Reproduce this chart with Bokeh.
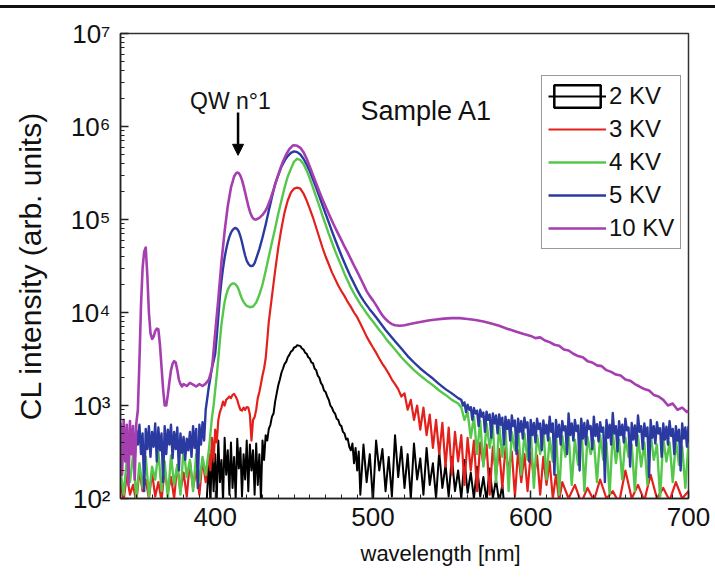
from bokeh.plotting import figure
from bokeh.models import (Range1d, FixedTicker, Label, Arrow, NormalHead, Legend,
                          LegendItem, ColumnDataSource, Div, Title)
from bokeh.layouts import column
from bokeh.embed import file_html
from bokeh.resources import INLINE

FONT = "Liberation Sans"

# ---------------- data: (wavelength nm, CL intensity) ----------------
spec_2kv = [(394,60),(396,250),(397,90),(398,380),(399,120),(400,300),(401,100),(402,420),(403,150),(404,260),
    (405,95),(406,450),(407,180),(408,330),(409,110),(410,400),(411,130),(412,280),(413,100),(414,440),(415,210),
    (416,350),(417,105),(418,300),(419,160),(420,420),(421,120),(422,380),(423,200),(424,330),(425,110),(426,390),
    (427,140),(428,300),(429,100),(430,420),(431,260),(432,480),(433,420),(434,560),(435,620),(436,760),(437,820),
    (438,1100),(439,1350),(440,1650),(441,1900),(442,2250),(443,2500),(444,2800),(445,2950),(446,3300),(447,3500),
    (448,3800),(449,3900),(450,4200),(451,4250),(452,4450),(453,4400),(454,4350),(455,4100),(456,4000),(457,3700),
    (458,3600),(459,3300),(460,3200),(461,2900),(462,2850),(463,2500),(464,2400),(465,2100),(466,2000),(467,1750),
    (468,1650),(469,1450),(470,1400),(471,1250),(472,1150),(473,1000),(474,950),(475,860),(476,820),(477,720),
    (478,700),(479,620),(480,600),(481,520),(482,500),(483,430),(484,440),(485,360),(486,330),(487,390),(488,240),
    (489,350),(490,200),(491,320),(492,110),(494,380),(496,150),(498,300),(500,95),(502,420),(504,200),(506,340),
    (508,120),(510,280),(512,105),(514,480),(516,170),(518,360),(520,130),(522,300),(524,100),(526,390),(528,160),
    (530,270),(532,110),(534,350),(536,140),(538,240),(540,100),(542,320),(544,130),(546,230),(548,105),(550,280),
    (552,120),(554,200),(556,100),(558,260),(560,115),(562,190),(564,100),(566,220),(568,105),(570,170),(572,95),
    (574,210),(576,100),(578,160),(580,90),(582,140),(584,60)]

spec_3kv = [(340,150),(342,95),(344,180),(346,110),(348,140),(350,90),(352,200),(354,120),(356,160),(358,100),
    (360,190),(362,105),(364,150),(366,95),(368,210),(370,115),(372,170),(374,100),(376,230),(378,120),(380,190),
    (382,105),(384,250),(386,130),(388,200),(390,110),(392,260),(394,150),(396,300),(397,200),(398,450),(399,250),
    (400,550),(401,400),(402,700),(403,850),(404,950),(405,1100),(406,1000),(407,1150),(408,1200),(409,1250),
    (410,1200),(411,1300),(412,1330),(413,1250),(414,1150),(415,1000),(416,900),(417,880),(418,950),(419,900),
    (420,960),(421,950),(422,800),(423,420),(424,700),(425,750),(426,900),(427,1200),(428,1400),(429,1700),
    (430,2100),(431,2500),(432,3200),(433,5000),(434,8000),(436,15000),(438,28000),(440,50000),(442,80000),
    (444,120000),(446,160000),(448,195000),(450,215000),(452,220000),(454,215000),(456,190000),(458,160000),
    (460,130000),(462,105000),(464,82000),(466,64000),(468,50000),(470,40000),(472,33000),(474,27000),(476,23000),
    (478,19500),(480,17000),(482,15000),(484,13000),(486,11500),(488,10000),(490,8900),(492,7600),(494,6500),
    (496,5500),(498,4800),(500,4200),(502,3700),(504,3200),(506,2800),(508,2500),(510,2200),(512,1900),(514,1700),
    (516,1500),(518,1250),(520,1350),(522,900),(524,1150),(526,700),(528,1000),(530,550),(532,950),(534,480),
    (536,800),(538,350),(540,700),(542,300),(544,650),(546,220),(548,580),(550,180),(552,520),(554,250),(556,480),
    (558,140),(560,450),(562,200),(564,420),(566,120),(568,400),(570,230),(572,380),(574,110),(576,360),(578,180),
    (580,340),(582,130),(584,350),(586,200),(588,320),(590,105),(592,330),(594,150),(596,300),(598,120),(600,310),
    (602,170),(604,290),(606,110),(608,280),(610,140),(612,250),(614,100),(616,180),(618,95),(620,150),(624,100),
    (628,140),(632,90),(636,130),(640,95),(644,160),(648,100),(652,120),(656,90),(660,200),(664,100),(668,140),
    (672,95),(676,180),(680,100),(684,130),(688,95),(692,150),(696,100),(700,120)]

spec_4kv = [(340,200),(342,110),(344,260),(346,150),(348,300),(350,100),(352,240),(354,130),(356,280),(358,105),
    (360,220),(362,160),(364,320),(366,120),(368,250),(370,100),(372,290),(374,140),(376,230),(378,110),(380,350),
    (382,170),(384,260),(386,120),(388,300),(390,150),(392,280),(394,180),(396,330),(397,500),(398,750),(399,1000),
    (400,1450),(401,2100),(402,3200),(403,5000),(404,7500),(405,10000),(406,13000),(407,15500),(408,17500),
    (409,19000),(410,20000),(411,20500),(412,20500),(413,20000),(414,19000),(415,17500),(416,15500),(417,14000),
    (418,13000),(419,12300),(420,11800),(422,11400),(424,11600),(426,12800),(428,15500),(430,20000),(432,28000),
    (434,40000),(436,57000),(438,80000),(440,115000),(442,160000),(444,220000),(446,290000),(448,350000),
    (450,420000),(452,450000),(454,435000),(456,395000),(458,335000),(460,275000),(462,220000),(464,175000),
    (466,140000),(468,110000),(470,88000),(472,70000),(474,57000),(476,46000),(478,38000),(480,31500),(482,26000),
    (484,22000),(486,18500),(488,16000),(490,14000),(492,12300),(494,11000),(496,9800),(498,8800),(500,8000),
    (502,7200),(504,6500),(506,5900),(508,5300),(510,4800),(514,4000),(518,3300),(522,2800),(526,2400),(530,2100),
    (534,1850),(538,1650),(542,1450),(546,1300),(550,1150),(554,1050),(556,950),(558,700),(560,850),(562,450),
    (564,760),(566,300),(568,680),(570,220),(572,640),(574,350),(576,600),(578,150),(580,620),(582,280),(584,560),
    (586,120),(588,520),(590,330),(592,580),(594,180),(596,500),(598,260),(600,540),(602,130),(604,480),(606,300),
    (608,560),(610,160),(612,450),(614,250),(616,520),(618,110),(620,470),(622,280),(624,500),(626,140),(628,430),
    (630,230),(632,700),(634,120),(636,460),(638,300),(640,420),(642,150),(644,480),(646,260),(648,400),(650,110),
    (652,520),(654,240),(656,430),(658,160),(660,450),(662,280),(664,380),(666,120),(668,470),(670,220),(672,400),
    (674,140),(676,500),(678,260),(680,380),(682,100),(684,440),(686,250),(688,400),(690,150),(692,420),(694,230),
    (696,360),(698,130),(700,400)]

spec_5kv = [(340,550),(341,300),(342,600),(343,350),(344,520),(345,200),(346,560),(347,320),(348,480),(349,260),
    (350,540),(351,380),(352,620),(353,300),(354,500),(355,120),(356,560),(357,340),(358,600),(359,280),(360,520),
    (361,360),(362,640),(363,250),(364,580),(365,330),(366,500),(367,150),(368,600),(369,300),(370,550),(371,380),
    (372,620),(373,270),(374,520),(375,340),(376,580),(377,200),(378,500),(379,310),(380,460),(381,260),(382,440),
    (383,330),(384,520),(385,280),(386,600),(387,350),(388,560),(389,130),(390,620),(391,380),(392,660),(393,420),
    (394,900),(395,1200),(396,1600),(397,2000),(398,2600),(399,3000),(400,3600),(401,5500),(402,9000),(403,15000),
    (404,22000),(405,30000),(406,39000),(407,48000),(408,57000),(409,65000),(410,72000),(411,77000),(412,80000),
    (413,81000),(414,79000),(415,74000),(416,66000),(417,57000),(418,48000),(419,41000),(420,36000),(421,33500),
    (422,32000),(423,31500),(424,32000),(425,34000),(426,38000),(428,48000),(430,64000),(432,88000),(434,125000),
    (436,175000),(438,240000),(440,300000),(442,370000),(444,430000),(446,480000),(448,520000),(450,540000),
    (452,530000),(454,500000),(456,450000),(458,390000),(460,330000),(462,270000),(464,220000),(466,178000),
    (468,143000),(470,115000),(472,93000),(474,75000),(476,61000),(478,50000),(480,41000),(482,34000),(484,28500),
    (486,24000),(488,20500),(490,17500),(492,15200),(494,13400),(496,12000),(498,10800),(500,9800),(502,8900),
    (504,8000),(506,7200),(508,6500),(510,5900),(514,4900),(518,4100),(522,3400),(526,2900),(530,2500),(534,2200),
    (538,1950),(542,1700),(546,1500),(550,1350),(554,1200),
    (556,1150),(557,1000),(558,1080),(559,850),(560,1020),(561,900),(562,960),(563,700),(564,940),(565,820),
    (566,880),(567,600),(568,900),(569,760),(570,840),(571,520),(572,860),(573,700),(574,800),(575,450),(576,820),
    (577,640),(578,780),(579,500),(580,800),(581,620),(582,740),(583,380),(584,760),(585,560),(586,700),(587,420),
    (588,780),(589,600),(590,690),(591,300),(592,720),(593,520),(594,680),(595,440),(596,740),(597,580),(598,660),
    (599,250),(600,700),(601,480),(602,650),(603,400),(604,720),(605,560),(606,640),(607,330),(608,690),(609,500),
    (610,620),(611,420),(612,760),(613,520),(614,640),(615,180),(616,700),(617,460),(618,620),(619,380),(620,680),
    (621,540),(622,600),(623,300),(624,820),(625,480),(626,640),(627,420),(628,700),(629,530),(630,610),(631,200),
    (632,720),(633,440),(634,650),(635,380),(636,690),(637,560),(638,600),(639,340),(640,760),(641,470),(642,630),
    (643,410),(644,660),(645,520),(646,580),(647,150),(648,700),(649,450),(650,620),(651,380),(652,830),(653,500),
    (654,600),(655,320),(656,680),(657,480),(658,620),(659,400),(660,720),(661,540),(662,580),(663,220),(664,650),
    (665,430),(666,610),(667,370),(668,780),(669,520),(670,600),(671,340),(672,640),(673,470),(674,580),(675,170),
    (676,700),(677,450),(678,600),(679,390),(680,660),(681,500),(682,570),(683,280),(684,640),(685,430),(686,590),
    (687,380),(688,680),(689,470),(690,560),(691,300),(692,600),(693,420),(694,550),(695,200),(696,640),(697,440),
    (698,580),(699,360),(700,600)]

spec_10kv = [(340,650),(341,180),(342,700),(343,250),(344,620),(345,140),(346,680),(347,300),(348,600),(349,160),
    (350,640),(351,900),(352,3000),(353,12000),(354,30000),(355,45000),(356,50000),(357,25000),(358,10000),
    (359,6000),(360,5200),(361,5500),(362,6300),(363,6700),(364,6600),(365,4500),(366,2600),(367,1500),(368,1000),
    (369,1000),(370,1300),(371,1800),(372,2400),(373,2800),(374,3000),(375,2900),(376,2400),(377,1900),(378,1700),
    (379,1600),(380,1700),(382,1620),(384,1750),(386,1680),(388,1600),(390,1700),(392,1620),(394,1720),(396,1900),
    (398,2500),(400,6000),(402,14000),(404,35000),(406,75000),(408,140000),(410,220000),(412,290000),(413,310000),
    (414,320000),(415,315000),(416,295000),(417,265000),(418,230000),(419,195000),(420,165000),(421,140000),
    (422,122000),(423,110000),(424,103000),(425,100000),(426,100000),(428,104000),(430,112000),(432,125000),
    (433,135000),(435,165000),(437,210000),(439,270000),(441,340000),(443,420000),(445,500000),(447,570000),
    (449,620000),(450,630000),(452,620000),(454,590000),(456,530000),(458,450000),(460,370000),(462,300000),
    (464,245000),(466,200000),(468,165000),(470,138000),(472,115000),(474,97000),(476,82000),(478,70000),
    (480,60000),(482,51000),(484,44000),(486,37500),(488,32000),(490,27500),(492,23500),(494,20000),(496,17000),
    (498,15000),(500,13500),(502,12000),(504,10500),(506,9300),(508,8500),(510,7900),(512,7500),(514,7300),
    (517,7200),(520,7300),(525,7600),(530,7900),(535,8200),(540,8400),(545,8600),(550,8700),(555,8700),(560,8500),
    (565,8300),(570,8000),(575,7600),(580,7200),(585,6700),(590,6300),(595,5900),(600,5600),(603,5300),(606,5400),
    (609,5000),(612,4800),(615,4500),(618,4400),(621,4000),(624,3900),(627,3600),(630,3400),(633,3300),(636,3000),
    (639,2900),(642,2700),(645,2650),(648,2400),(651,2300),(654,2150),(657,2100),(660,1900),(663,1850),(666,1700),
    (669,1600),(672,1500),(675,1450),(678,1300),(681,1250),(684,1150),(687,1000),(690,1050),(693,900),(696,950),
    (699,850),(700,880)]

series_labels = ["2 KV", "3 KV", "4 KV", "5 KV", "10 KV"]
series_colors = ["#000000", "#e3201b", "#55c74a", "#2b3aa0", "#a53fb0"]
series_widths = [2.0, 2.2, 2.4, 2.4, 2.6]
series_data = [spec_2kv, spec_3kv, spec_4kv, spec_5kv, spec_10kv]

y_ticks = [100, 1000, 10000, 100000, 1000000, 10000000]
y_tick_labels = ["10\u00b2", "10\u00b3", "10\u2074", "10\u2075", "10\u2076", "10\u2077"]
x_ticks = [400, 500, 600, 700]

# ---------------- figure ----------------
p = figure(width=715, height=569, output_backend="svg", toolbar_location=None,
           x_range=Range1d(340, 700), y_range=Range1d(100, 1e7), y_axis_type="log",
           min_border_left=120, min_border_right=27, min_border_top=25, min_border_bottom=79,
           background_fill_color="white", border_fill_color="white")
p.xgrid.visible = False
p.ygrid.visible = False
p.outline_line_color = "#333333"
p.outline_line_width = 1.5

renderers = []
for data, col, lw in zip(series_data, series_colors, series_widths):
    src = ColumnDataSource(dict(x=[d[0] for d in data], y=[d[1] for d in data]))
    r = p.line("x", "y", source=src, line_color=col, line_width=lw, line_join="round")
    renderers.append(r)

# legend proxy for the boxed "2 KV" symbol (no visible mark in the plot)
nan = float("nan")
box = p.quad(left=[nan], right=[nan], top=[nan], bottom=[nan], fill_alpha=0,
             line_color="black", line_width=2.5)

items = [LegendItem(label=series_labels[0], renderers=[box, renderers[0]])]
for lab, r in zip(series_labels[1:], renderers[1:]):
    items.append(LegendItem(label=lab, renderers=[r]))
legend = Legend(items=items, location=(421, 249), glyph_width=58, glyph_height=28,
                label_standoff=3, spacing=5, padding=6, margin=0,
                label_text_font=FONT, label_text_font_size="24px", label_text_color="#111111",
                border_line_color="#333333", border_line_width=1.5, background_fill_alpha=1.0)
p.add_layout(legend)

# axes
for ax in (p.xaxis[0], p.yaxis[0]):
    ax.axis_line_width = 1.5
    ax.axis_line_color = "#222222"
    ax.major_tick_in = 8
    ax.major_tick_out = 0
    ax.minor_tick_in = 4
    ax.minor_tick_out = 0
    ax.major_tick_line_width = 1.5
    ax.major_tick_line_color = "#222222"
    ax.minor_tick_line_color = "#222222"
    ax.major_label_text_font = FONT
    ax.major_label_text_font_size = "26px"
    ax.major_label_text_color = "#111111"

p.xaxis.ticker = FixedTicker(ticks=x_ticks, minor_ticks=list(range(340, 701, 10)))
p.xaxis.major_label_standoff = 9
p.yaxis.ticker = FixedTicker(ticks=y_ticks,
                             minor_ticks=[m * t for t in y_ticks[:-1] for m in range(2, 10)])
p.yaxis.major_label_overrides = {t: s for t, s in zip(y_ticks, y_tick_labels)}
p.yaxis.major_label_standoff = 10
p.yaxis.axis_label = "CL intensity (arb. units)"
p.yaxis.axis_label_text_font = FONT
p.yaxis.axis_label_text_font_size = "30px"
p.yaxis.axis_label_text_font_style = "normal"
p.yaxis.axis_label_text_color = "#111111"
p.yaxis.axis_label_standoff = 20

# x-axis title, set below the tick labels, starting at 240 px from the frame's left edge
p.add_layout(Title(text="wavelength [nm]", align="left", offset=240, standoff=20,
                   vertical_align="bottom",
                   text_font=FONT, text_font_size="22px", text_font_style="normal",
                   text_color="#111111"), "below")

# annotations
p.add_layout(Label(x=409.7, y=1.86e6, text="QW n\u00b01", text_align="center",
                   text_baseline="alphabetic", text_font=FONT, text_font_size="23px",
                   text_color="#111111"))
p.add_layout(Arrow(x_start=414.5, y_start=1.41e6, x_end=414.5, y_end=4.9e5,
                   line_color="black", line_width=2.5,
                   end=NormalHead(size=11, fill_color="black", line_color="black")))
p.add_layout(Label(x=492.1, y=1.47e6, text="Sample A1", text_align="left",
                   text_baseline="alphabetic", text_font=FONT, text_font_size="27px",
                   text_color="#111111"))

rule = Div(text="", width=715, height=3, margin=(5, 0, 0, 0),
           styles={"background-color": "#111111"})
layout = column(rule, p, spacing=0)

open("out.html", "w").write(file_html(layout, INLINE))
